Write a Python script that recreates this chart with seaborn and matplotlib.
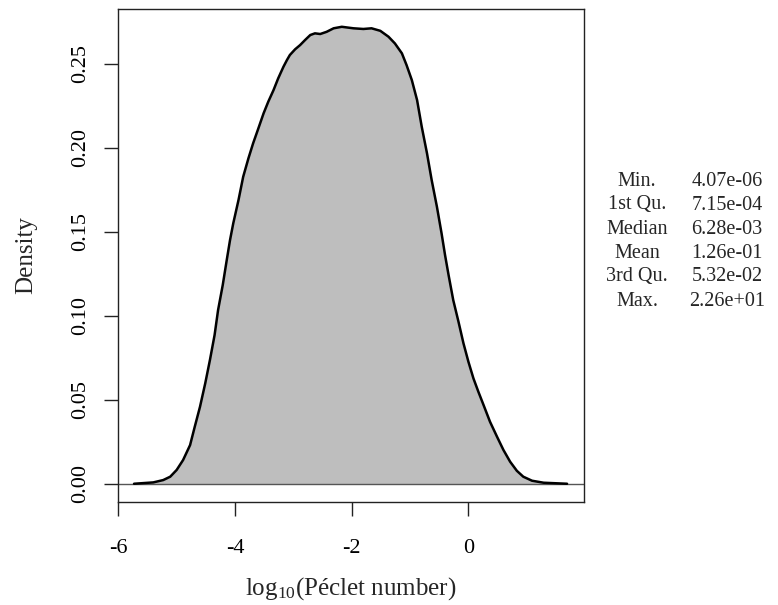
import numpy as np
import pandas as pd
import seaborn as sns
import matplotlib
matplotlib.use("Agg")
import matplotlib.pyplot as plt

# density curve (log10 Peclet number vs density)
log_pe = [-5.73, -5.40, -5.23, -5.11, -5.00, -4.89, -4.77, -4.69, -4.60, -4.51,
          -4.43, -4.35, -4.29, -4.21, -4.14, -4.085, -4.03, -3.94, -3.86, -3.77,
          -3.69, -3.60, -3.51, -3.43, -3.34, -3.26, -3.17, -3.11, -3.06, -2.97,
          -2.885, -2.80, -2.71, -2.63, -2.54, -2.43, -2.31, -2.17, -1.97, -1.80,
          -1.66, -1.51, -1.37, -1.26, -1.14, -1.06, -0.97, -0.88, -0.80, -0.71,
          -0.63, -0.54, -0.46, -0.40, -0.34, -0.26, -0.17, -0.085, 0.00, 0.086,
          0.17, 0.26, 0.37, 0.49, 0.60, 0.715, 0.83, 0.94, 1.09, 1.29, 1.69]
density = [0.0, 0.0008, 0.0022, 0.0042, 0.0082, 0.0141, 0.0230, 0.0339, 0.0458, 0.0598,
           0.0736, 0.0885, 0.1034, 0.1183, 0.1335, 0.1451, 0.1550, 0.1689, 0.1827, 0.1937,
           0.2026, 0.2115, 0.2205, 0.2274, 0.2343, 0.2413, 0.2482, 0.2522, 0.2552, 0.2586,
           0.2611, 0.2641, 0.2671, 0.2681, 0.2677, 0.2690, 0.2711, 0.2720, 0.2711, 0.2707,
           0.2711, 0.2696, 0.2661, 0.2621, 0.2562, 0.2492, 0.2403, 0.2284, 0.2125, 0.1967,
           0.1808, 0.1649, 0.1490, 0.1360, 0.1242, 0.1093, 0.0964, 0.0836, 0.0726, 0.0627,
           0.0548, 0.0468, 0.0369, 0.0280, 0.0201, 0.0131, 0.0077, 0.0042, 0.0018, 0.0006, 0.0]

# summary table on the right
stat_names = ['Min.', '1st Qu.', 'Median', 'Mean', '3rd Qu.', 'Max.']
stat_values = ['4.07e-06', '7.15e-04', '6.28e-03', '1.26e-01', '5.32e-02', '2.26e+01']

x_ticks = [-6, -4, -2, 0]
y_ticks = [0.00, 0.05, 0.10, 0.15, 0.20, 0.25]

df = pd.DataFrame({'log_pe': log_pe, 'density': density})

sns.set_theme(style='ticks')
plt.rcParams['font.family'] = ['Liberation Serif', 'DejaVu Serif']
plt.rcParams['mathtext.fontset'] = 'custom'
plt.rcParams['mathtext.rm'] = 'Liberation Serif'
plt.rcParams['mathtext.it'] = 'Liberation Serif:italic'

fig = plt.figure(figsize=(7.78, 6.05), dpi=100)
ax = fig.add_axes([0.1513, 0.1707, 0.5993, 0.8139])

ax.fill_between(df['log_pe'], 0, df['density'], color='#bebebe', lw=0)
sns.lineplot(data=df, x='log_pe', y='density', color='black', lw=1.8, ax=ax, sort=False)
ax.axhline(0, color='#555555', lw=1, zorder=1)

ax.set_xlim(-6.01, 1.98)
ax.set_ylim(-0.0107, 0.2824)
ax.set_xticks(x_ticks)
ax.set_xticklabels([str(t) for t in x_ticks])
ax.set_yticks(y_ticks)
ax.set_yticklabels([f'{t:.2f}' for t in y_ticks], rotation=90, va='center')

for s in ax.spines.values():
    s.set_visible(True)
    s.set_color('#222222')
    s.set_linewidth(1)

ax.tick_params(axis='both', which='major', direction='out', length=10, width=1,
               color='#222222', labelsize=16, labelcolor='black',
               bottom=True, left=True, top=False, right=False)
ax.tick_params(axis='x', pad=17)
ax.tick_params(axis='y', pad=10)

ax.set_xlabel(r'$\mathrm{log}_{10}$(Péclet number)', fontsize=18, labelpad=12)
ax.set_ylabel('Density', fontsize=18, labelpad=24)

row_y = [181.7, 205, 229, 253, 277, 301]
for name, val, py in zip(stat_names, stat_values, row_y):
    fig.text(637 / 778, 1 - py / 605, name, ha='center', va='center', fontsize=14.5)
    fig.text(727 / 778, 1 - py / 605, val, ha='center', va='center', fontsize=14.5)

fig.savefig('out.png', dpi=100)
